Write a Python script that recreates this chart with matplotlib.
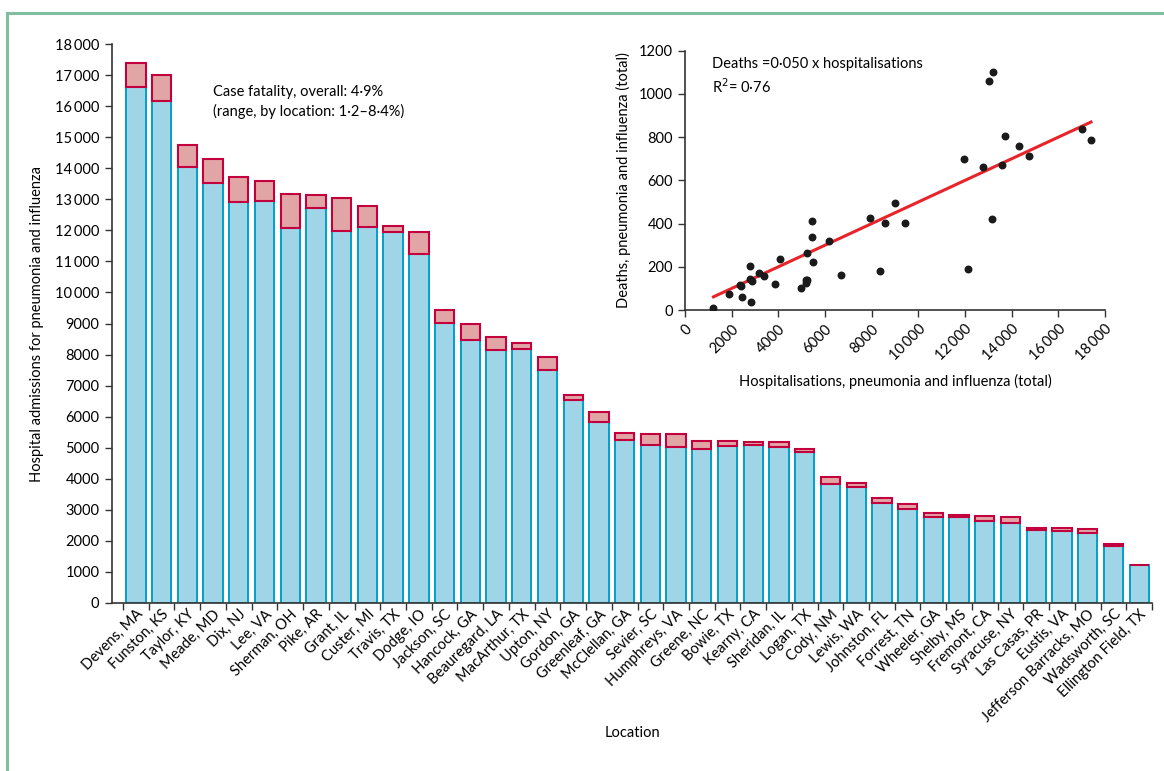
import matplotlib
matplotlib.use('Agg')
import matplotlib.pyplot as plt
import numpy as np

plt.rcParams['font.family'] = ['Lato', 'DejaVu Sans']
plt.rcParams['font.size'] = 10.5

locations = ['Devens, MA', 'Funston, KS', 'Taylor, KY', 'Meade, MD', 'Dix, NJ', 'Lee, VA',
             'Sherman, OH', 'Pike, AR', 'Grant, IL', 'Custer, MI', 'Travis, TX', 'Dodge, IO',
             'Jackson, SC', 'Hancock, GA', 'Beauregard, LA', 'MacArthur, TX', 'Upton, NY',
             'Gordon, GA', 'Greenleaf, GA', 'McClellan, GA', 'Sevier, SC', 'Humphreys, VA',
             'Greene, NC', 'Bowie, TX', 'Kearny, CA', 'Sheridan, IL', 'Logan, TX', 'Cody, NM',
             'Lewis, WA', 'Johnston, FL', 'Forrest, TN', 'Wheeler, GA', 'Shelby, MS',
             'Fremont, CA', 'Syracuse, NY', 'Las Casas, PR', 'Eustis, VA',
             'Jefferson Barracks, MO', 'Wadsworth, SC', 'Ellington Field, TX']

# total hospital admissions (pneumonia and influenza) per location
hospitalisations = [17400, 17000, 14750, 14300, 13720, 13600, 13180, 13150, 13050, 12780,
                    12150, 11950, 9420, 8980, 8560, 8360, 7930, 6700, 6160, 5470,
                    5430, 5430, 5215, 5210, 5200, 5170, 4950, 4060, 3870, 3380,
                    3190, 2890, 2820, 2790, 2770, 2425, 2420, 2370, 1900, 1220]

# deaths per location
deaths = [785, 840, 715, 760, 805, 670, 1100, 420, 1060, 660,
          192, 700, 405, 495, 405, 182, 427, 160, 320, 222,
          336, 410, 262, 139, 126, 139, 103, 234, 119, 157,
          173, 136, 39, 142, 204, 62, 111, 115, 74, 10]

slope = 0.050

hosp = np.array(hospitalisations)
dead = np.array(deaths)
x = np.arange(len(locations))


def thin(v):
    return f'{v:,}'.replace(',', '\u2009') if v >= 10000 else str(v)


fig = plt.figure(figsize=(11.64, 7.71), dpi=100)

# frame line on the left and top, as in the journal layout
fig.add_artist(plt.Line2D([7 / 1164, 7 / 1164], [0, 1 - 13 / 771], color='#7fbf9f', lw=2.2))
fig.add_artist(plt.Line2D([7 / 1164, 1], [1 - 13 / 771, 1 - 13 / 771], color='#7fbf9f', lw=2.2))

ax = fig.add_axes([0.0962, 0.2179, 0.8935, 0.725])
ax.bar(x, hosp - dead, width=0.75, color='#9fd5e7', edgecolor='#00a0c8', linewidth=1.4)
ax.bar(x, dead, bottom=hosp - dead, width=0.75, color='#e2a5a6', edgecolor='#c2003d', linewidth=1.5)

ax.set_xlim(-0.93, len(locations) - 0.5)
ax.set_ylim(0, 18000)
ax.set_yticks(np.arange(0, 18001, 1000))
ax.set_yticklabels([thin(v) for v in range(0, 18001, 1000)])
ax.set_xticks(x)
ax.set_xticklabels(locations, rotation=45, ha='right', rotation_mode='anchor')
ax.tick_params(axis='x', which='major', length=0, pad=3)
ax.set_xticks(np.arange(-0.5, len(locations), 1), minor=True)
ax.tick_params(axis='x', which='minor', length=5, width=1, color='#333333')
ax.tick_params(axis='y', length=5, width=1, color='#333333', pad=4)
for s in ['top', 'right']:
    ax.spines[s].set_visible(False)
for s in ['left', 'bottom']:
    ax.spines[s].set_color('#333333')
    ax.spines[s].set_linewidth(1.2)
ax.set_xlabel('Location', labelpad=1)
ax.set_ylabel('Hospital admissions for pneumonia and influenza', labelpad=8)
ax.text(0.097, 0.927, 'Case fatality, overall: 4\u00b79%\n(range, by location: 1\u00b72\u20138\u00b74%)',
        transform=ax.transAxes, va='top', ha='left', linespacing=1.45)

# inset: deaths vs hospitalisations
ins = fig.add_axes([0.5885, 0.5979, 0.3608, 0.3363])
ins.scatter(hosp, dead, s=22, color='#1a1a1a', zorder=3)
xs = np.array([hosp.min(), hosp.max()])
ins.plot(xs, slope * xs, color='#e8242b', lw=2.2, zorder=2)
ins.set_xlim(0, 18000)
ins.set_ylim(0, 1200)
ins.set_xticks(np.arange(0, 18001, 2000))
ins.set_xticklabels([thin(v) for v in range(0, 18001, 2000)],
                    rotation=45, ha='right', rotation_mode='anchor')
ins.set_yticks(np.arange(0, 1201, 200))
ins.tick_params(length=5, width=1, color='#333333')
for s in ['top', 'right']:
    ins.spines[s].set_visible(False)
for s in ['left', 'bottom']:
    ins.spines[s].set_color('#333333')
    ins.spines[s].set_linewidth(1.2)
ins.set_xlabel('Hospitalisations, pneumonia and influenza (total)', labelpad=8)
ins.set_ylabel('Deaths, pneumonia and influenza (total)', labelpad=6)
ins.text(0.065, 0.975, 'Deaths =0\u00b7050 x hospitalisations\nR$^2$= 0\u00b776',
         transform=ins.transAxes, va='top', ha='left', linespacing=1.4)

fig.savefig('out.png', dpi=100, facecolor='white')
